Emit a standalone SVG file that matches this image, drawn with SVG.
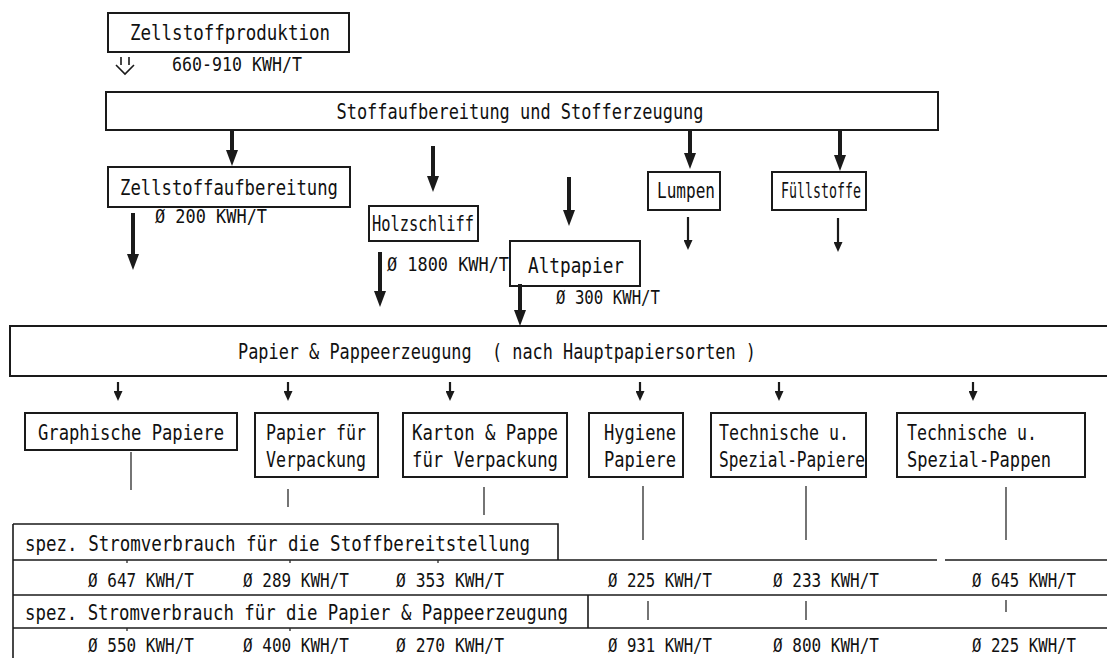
<svg xmlns="http://www.w3.org/2000/svg" width="1107" height="658" viewBox="0 0 1107 658">
  <defs>
    <style>
      .box { fill: #ffffff; stroke: #1a1a1a; stroke-width: 2; }
      .ln { fill: none; stroke: #1a1a1a; stroke-width: 1.6; }
      .thin { fill: none; stroke: #2a2a2a; stroke-width: 1.3; }
      .shaft { fill: none; stroke: #1a1a1a; stroke-width: 4; }
      .shaft2 { fill: none; stroke: #1a1a1a; stroke-width: 2.2; }
      text { font-family: "DejaVu Sans Mono", "Liberation Mono", monospace; font-size: 22px; fill: #111111; }
      .v { font-size: 19px; }
      .mid { text-anchor: middle; }
    </style>
    <!-- downward heads, drawn unrotated -->
    <marker id="head" markerUnits="userSpaceOnUse" markerWidth="12" markerHeight="16" refX="6" refY="1" orient="0" viewBox="0 0 12 16">
      <path d="M0,0 L12,0 L6,16 Z" fill="#1a1a1a"/>
    </marker>
    <marker id="headS" markerUnits="userSpaceOnUse" markerWidth="9" markerHeight="10" refX="4.5" refY="1" orient="0" viewBox="0 0 9 10">
      <path d="M0,0 L9,0 L4.5,10 Z" fill="#1a1a1a"/>
    </marker>
  </defs>

  <rect width="1107" height="658" fill="#ffffff"/>

  <!-- supply stage -->
  <g id="zellstoffproduktion">
    <rect class="box" x="108" y="13" width="241" height="39"/>
    <text class="mid" x="230" y="40" textLength="200" lengthAdjust="spacingAndGlyphs">Zellstoffproduktion</text>
  </g>
  <g id="zellstoffproduktion-energie">
    <path class="ln" d="M121,57 v8 M129,57 v8 M116,65 L125,74 L134,65"/>
    <text class="v" x="172" y="71" textLength="130" lengthAdjust="spacingAndGlyphs">660-910 KWH/T</text>
  </g>

  <g id="stoffaufbereitung">
    <rect class="box" x="106" y="92" width="832" height="38"/>
    <text class="mid" x="520" y="119" textLength="367" lengthAdjust="spacingAndGlyphs">Stoffaufbereitung und Stofferzeugung</text>
  </g>

  <!-- raw material stage -->
  <g id="zellstoffaufbereitung">
    <rect class="box" x="108" y="167" width="242" height="40"/>
    <text class="mid" x="229" y="195" textLength="218" lengthAdjust="spacingAndGlyphs">Zellstoffaufbereitung</text>
    <text class="v" x="155" y="223" textLength="112" lengthAdjust="spacingAndGlyphs">Ø 200 KWH/T</text>
  </g>
  <g id="holzschliff">
    <rect class="box" x="369" y="206" width="109" height="35"/>
    <text class="mid" x="423" y="231" textLength="102" lengthAdjust="spacingAndGlyphs">Holzschliff</text>
    <text class="v" x="387" y="271" textLength="122" lengthAdjust="spacingAndGlyphs">Ø 1800 KWH/T</text>
  </g>
  <g id="altpapier">
    <rect class="box" x="510" y="241" width="130" height="45"/>
    <text class="mid" x="576" y="273" textLength="96" lengthAdjust="spacingAndGlyphs">Altpapier</text>
    <text class="v" x="556" y="304" textLength="104" lengthAdjust="spacingAndGlyphs">Ø 300 KWH/T</text>
  </g>
  <g id="lumpen">
    <rect class="box" x="648" y="172" width="72" height="38"/>
    <text class="mid" x="686" y="198" textLength="58" lengthAdjust="spacingAndGlyphs">Lumpen</text>
  </g>
  <g id="fuellstoffe">
    <rect class="box" x="772" y="172" width="94" height="38"/>
    <text class="mid" x="821" y="198" textLength="80" lengthAdjust="spacingAndGlyphs">Füllstoffe</text>
  </g>

  <!-- paper and board production -->
  <g id="papiererzeugung">
    <rect class="box" x="10" y="326" width="1110" height="50"/>
    <text x="238" y="359" xml:space="preserve" textLength="518" lengthAdjust="spacingAndGlyphs">Papier &amp; Pappeerzeugung  ( nach Hauptpapiersorten )</text>
  </g>

  <!-- main paper grades -->
  <g id="graphische-papiere">
    <rect class="box" x="25" y="413" width="212" height="37"/>
    <text class="mid" x="131" y="440" textLength="186" lengthAdjust="spacingAndGlyphs">Graphische Papiere</text>
  </g>
  <g id="papier-verpackung">
    <rect class="box" x="255" y="413" width="123" height="64"/>
    <text class="mid" x="316" y="440" textLength="100" lengthAdjust="spacingAndGlyphs">Papier für</text>
    <text class="mid" x="316" y="467" textLength="100" lengthAdjust="spacingAndGlyphs">Verpackung</text>
  </g>
  <g id="karton-pappe">
    <rect class="box" x="403" y="413" width="164" height="64"/>
    <text class="mid" x="485" y="440" textLength="146" lengthAdjust="spacingAndGlyphs">Karton &amp; Pappe</text>
    <text class="mid" x="485" y="467" textLength="146" lengthAdjust="spacingAndGlyphs">für Verpackung</text>
  </g>
  <g id="hygiene-papiere">
    <rect class="box" x="589" y="413" width="94" height="64"/>
    <text class="mid" x="640" y="440" textLength="72" lengthAdjust="spacingAndGlyphs">Hygiene</text>
    <text class="mid" x="640" y="467" textLength="72" lengthAdjust="spacingAndGlyphs">Papiere</text>
  </g>
  <g id="spezial-papiere">
    <rect class="box" x="711" y="413" width="155" height="64"/>
    <text x="719" y="440" textLength="130" lengthAdjust="spacingAndGlyphs">Technische u.</text>
    <text x="719" y="467" textLength="146" lengthAdjust="spacingAndGlyphs">Spezial-Papiere</text>
  </g>
  <g id="spezial-pappen">
    <rect class="box" x="897" y="413" width="188" height="64"/>
    <text x="907" y="440" textLength="130" lengthAdjust="spacingAndGlyphs">Technische u.</text>
    <text x="907" y="467" textLength="144" lengthAdjust="spacingAndGlyphs">Spezial-Pappen</text>
  </g>

  <!-- specific power consumption table -->
  <g id="verbrauchstabelle">
    <path class="ln" d="M13,524 H558 V560"/>
    <path class="ln" d="M13,560 H937 M945,560 H1107"/>
    <path class="ln" d="M13,595 H1107"/>
    <path class="ln" d="M13,628 H1107"/>
    <path class="ln" d="M13,524 V658"/>
    <path class="ln" d="M588,595 V628"/>
    <path class="thin" d="M127,560 v3 M290,560 v3 M438,560 v3 M127,628 v3 M290,628 v3"/>
    <text x="25" y="551" textLength="505" lengthAdjust="spacingAndGlyphs">spez. Stromverbrauch für die Stoffbereitstellung</text>
    <text class="v" x="88" y="587" textLength="106" lengthAdjust="spacingAndGlyphs">Ø 647 KWH/T</text>
    <text class="v" x="243" y="587" textLength="106" lengthAdjust="spacingAndGlyphs">Ø 289 KWH/T</text>
    <text class="v" x="396" y="587" textLength="108" lengthAdjust="spacingAndGlyphs">Ø 353 KWH/T</text>
    <text class="v" x="608" y="587" textLength="104" lengthAdjust="spacingAndGlyphs">Ø 225 KWH/T</text>
    <text class="v" x="773" y="587" textLength="106" lengthAdjust="spacingAndGlyphs">Ø 233 KWH/T</text>
    <text class="v" x="972" y="587" textLength="104" lengthAdjust="spacingAndGlyphs">Ø 645 KWH/T</text>
    <text x="25" y="620" textLength="543" lengthAdjust="spacingAndGlyphs">spez. Stromverbrauch für die Papier &amp; Pappeerzeugung</text>
    <text class="v" x="88" y="652" textLength="106" lengthAdjust="spacingAndGlyphs">Ø 550 KWH/T</text>
    <text class="v" x="243" y="652" textLength="106" lengthAdjust="spacingAndGlyphs">Ø 400 KWH/T</text>
    <text class="v" x="396" y="652" textLength="108" lengthAdjust="spacingAndGlyphs">Ø 270 KWH/T</text>
    <text class="v" x="608" y="652" textLength="104" lengthAdjust="spacingAndGlyphs">Ø 931 KWH/T</text>
    <text class="v" x="773" y="652" textLength="106" lengthAdjust="spacingAndGlyphs">Ø 800 KWH/T</text>
    <text class="v" x="972" y="652" textLength="104" lengthAdjust="spacingAndGlyphs">Ø 225 KWH/T</text>
  </g>

  <!-- connectors -->
  <g id="connectors">
    <path class="shaft" d="M232,130 V151" marker-end="url(#head)"/>
    <path class="shaft" d="M433,146 V177" marker-end="url(#head)"/>
    <path class="shaft" d="M569,177 V211" marker-end="url(#head)"/>
    <path class="shaft" d="M690,130 V154" marker-end="url(#head)"/>
    <path class="shaft" d="M840,130 V156" marker-end="url(#head)"/>
    <path class="shaft" d="M133,213 V255" marker-end="url(#head)"/>
    <path class="shaft" d="M380,252 V292" marker-end="url(#head)"/>
    <path class="shaft" d="M520,284 V311" marker-end="url(#head)"/>
    <path class="shaft2" d="M688,217 V241" marker-end="url(#headS)"/>
    <path class="shaft2" d="M838,218 V243" marker-end="url(#headS)"/>

    <path class="shaft2" d="M118,382 V392" marker-end="url(#headS)"/>
    <path class="shaft2" d="M288,382 V392" marker-end="url(#headS)"/>
    <path class="shaft2" d="M450,382 V392" marker-end="url(#headS)"/>
    <path class="shaft2" d="M640,382 V392" marker-end="url(#headS)"/>
    <path class="shaft2" d="M779,382 V392" marker-end="url(#headS)"/>
    <path class="shaft2" d="M973,382 V392" marker-end="url(#headS)"/>

    <path class="thin" d="M131,452 V490"/>
    <path class="thin" d="M288,489 V507"/>
    <path class="thin" d="M484,487 V515"/>
    <path class="thin" d="M643,486 V540"/>
    <path class="thin" d="M806,486 V540"/>
    <path class="thin" d="M1006,487 V540"/>
    <path class="thin" d="M648,601 V620"/>
    <path class="thin" d="M806,601 V620"/>
    <path class="thin" d="M1006,600 V612"/>
  </g>
</svg>
